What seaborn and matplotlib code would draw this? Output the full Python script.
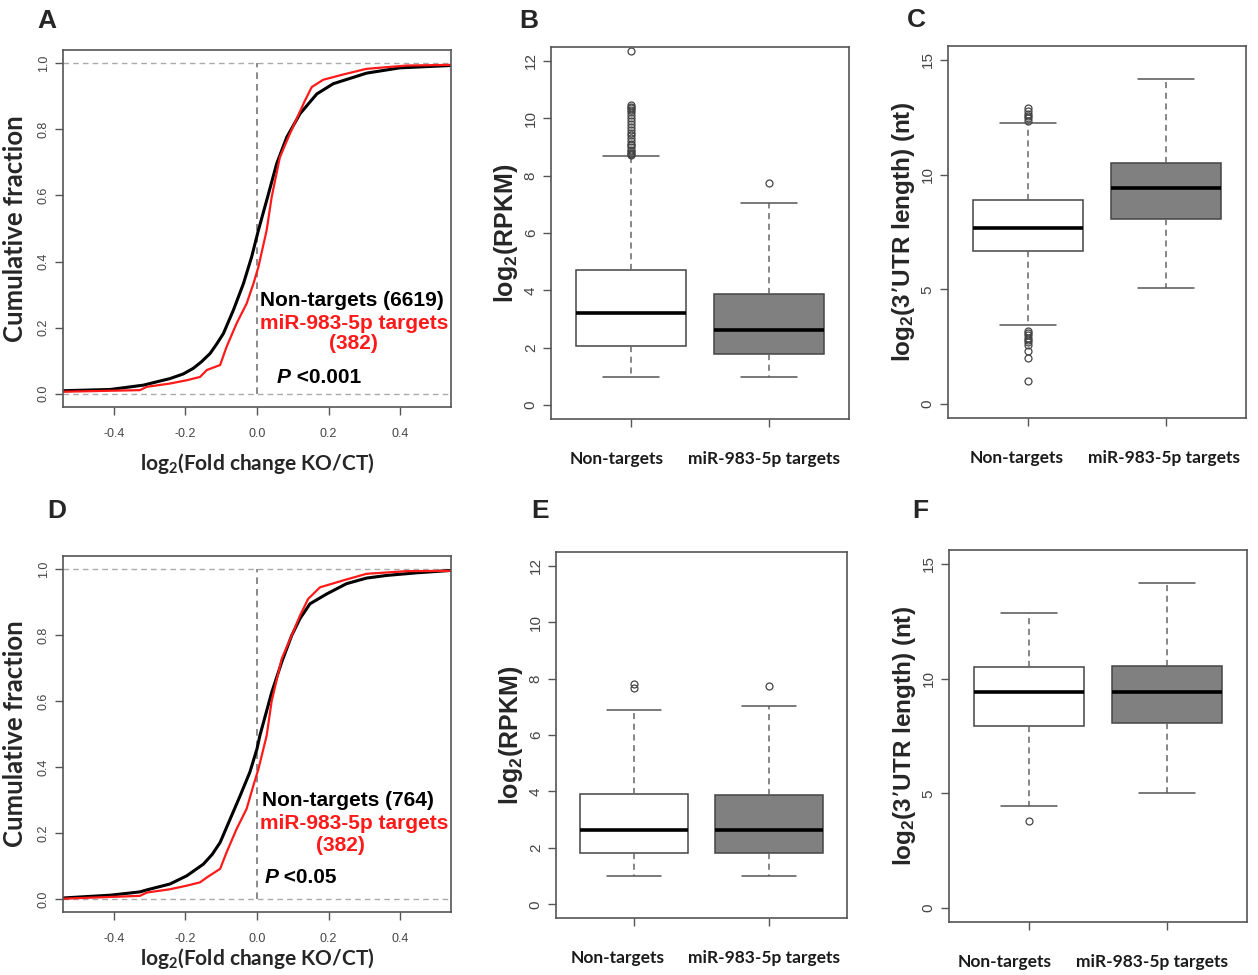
import matplotlib.pyplot as plt
import seaborn as sns
from matplotlib.transforms import ScaledTranslation

categories = ["Non-targets", "miR-983-5p targets"]

# cumulative fraction curves
a_fold_non = [-0.55, -0.41, -0.318, -0.243, -0.206, -0.178, -0.155, -0.131, -0.113, -0.094, -0.066,
              -0.038, -0.015, 0.004, 0.027, 0.055, 0.083, 0.12, 0.167, 0.213, 0.306, 0.399, 0.539]
a_cum_non = [0.009, 0.013, 0.026, 0.046, 0.06, 0.077, 0.097, 0.122, 0.15, 0.182, 0.253,
             0.333, 0.414, 0.495, 0.585, 0.696, 0.776, 0.847, 0.907, 0.938, 0.970, 0.986, 0.993]
a_fold_tgt = [-0.55, -0.327, -0.308, -0.243, -0.196, -0.159, -0.14, -0.103, -0.085, -0.057, -0.029,
              -0.010, 0.004, 0.027, 0.041, 0.064, 0.092, 0.115, 0.134, 0.153, 0.185, 0.241,
              0.306, 0.418, 0.539]
a_cum_tgt = [0.006, 0.011, 0.021, 0.031, 0.041, 0.051, 0.072, 0.087, 0.142, 0.213, 0.273,
             0.333, 0.384, 0.495, 0.595, 0.716, 0.787, 0.842, 0.887, 0.928, 0.95, 0.966,
             0.983, 0.993, 0.995]

d_fold_non = [-0.55, -0.41, -0.327, -0.308, -0.243, -0.196, -0.15, -0.125, -0.103, -0.075, -0.047,
              -0.02, 0.0, 0.008, 0.041, 0.069, 0.097, 0.12, 0.148, 0.195, 0.25, 0.306, 0.362,
              0.446, 0.539]
d_cum_non = [0.002, 0.011, 0.021, 0.027, 0.045, 0.07, 0.105, 0.135, 0.171, 0.242, 0.313,
             0.384, 0.455, 0.495, 0.626, 0.718, 0.799, 0.85, 0.895, 0.925, 0.956, 0.973, 0.981,
             0.989, 0.996]
d_fold_tgt = [-0.55, -0.327, -0.308, -0.243, -0.196, -0.159, -0.14, -0.103, -0.085, -0.057, -0.029,
              -0.010, 0.004, 0.027, 0.041, 0.069, 0.097, 0.12, 0.143, 0.176, 0.241, 0.306, 0.418, 0.539]
d_cum_tgt = [0.0, 0.009, 0.019, 0.029, 0.04, 0.05, 0.065, 0.091, 0.141, 0.212, 0.273,
             0.344, 0.394, 0.495, 0.6, 0.728, 0.799, 0.859, 0.91, 0.945, 0.966, 0.986, 0.994, 0.995]

# box statistics (non-targets, targets)
b_whislo = [1.0, 1.0]
b_q1 = [2.06, 1.79]
b_med = [3.2, 2.62]
b_q3 = [4.71, 3.88]
b_whishi = [8.67, 7.05]
b_fliers = [[8.7, 8.75, 8.8, 8.85, 8.9, 9.0, 9.05, 9.1, 9.2, 9.3, 9.4, 9.5, 9.6, 9.7,
             9.8, 9.9, 10.0, 10.1, 10.2, 10.3, 10.35, 10.4, 10.45, 12.35], [7.73]]

c_whislo = [3.44, 5.04]
c_q1 = [6.67, 8.06]
c_med = [7.66, 9.41]
c_q3 = [8.9, 10.51]
c_whishi = [12.25, 14.15]
c_fliers = [[12.35, 12.45, 12.55, 12.65, 12.75, 12.9,
             3.18, 3.1, 3.0, 2.9, 2.8, 2.7, 2.6, 2.33, 2.0, 1.01], []]

e_whislo = [1.0, 1.0]
e_q1 = [1.83, 1.81]
e_med = [2.64, 2.62]
e_q3 = [3.9, 3.88]
e_whishi = [6.88, 7.04]
e_fliers = [[7.67, 7.79], [7.73]]

f_whislo = [4.47, 5.03]
f_q1 = [7.94, 8.08]
f_med = [9.43, 9.4]
f_q3 = [10.5, 10.53]
f_whishi = [12.87, 14.16]
f_fliers = [[3.79], []]

W, H = 1258, 975
ARIAL = "Liberation Sans"
CALIBRI = "Lato"
GREY = "#555555"

sns.set_style("ticks")
plt.rcParams["font.family"] = [ARIAL, "DejaVu Sans"]
plt.rcParams["mathtext.default"] = "regular"


def make_axes(fig, x0, y0, x1, y1):
    ax = fig.add_axes([x0 / W, 1 - y1 / H, (x1 - x0) / W, (y1 - y0) / H])
    for s in ax.spines.values():
        s.set_color(GREY)
        s.set_linewidth(1.2)
        s.set_visible(True)
    ax.tick_params(color=GREY, length=6, width=1, labelsize=9, labelcolor="#444444")
    return ax


def rotate_y(ax):
    for lab in ax.get_yticklabels():
        lab.set_rotation(90)
        lab.set_va("center")


def ecdf_panel(ax, xn, yn, xt, yt, n_label, n_xy, t_xy, c_xy, p_text, p_xy, xpad):
    ax.set_xlim(-0.542, 0.542)
    ax.set_ylim(-0.04, 1.04)
    ax.axhline(0, color="#aaaaaa", ls=(0, (4, 3)), lw=1)
    ax.axhline(1, color="#aaaaaa", ls=(0, (4, 3)), lw=1)
    ax.plot([0, 0], [0, 1], color="#777777", ls=(0, (4, 3)), lw=1.2)
    sns.lineplot(x=xn, y=yn, ax=ax, color="black", lw=2.2, sort=False, estimator=None)
    sns.lineplot(x=xt, y=yt, ax=ax, color="#ff1a1a", lw=1.6, sort=False, estimator=None)
    ax.set_xticks([-0.4, -0.2, 0.0, 0.2, 0.4])
    ax.set_xticklabels(["-0.4", "-0.2", "0.0", "0.2", "0.4"])
    ax.set_yticks([0, 0.2, 0.4, 0.6, 0.8, 1.0])
    ax.set_yticklabels(["0.0", "0.2", "0.4", "0.6", "0.8", "1.0"])
    rotate_y(ax)
    ax.tick_params(axis="x", pad=9)
    ax.set_ylabel("Cumulative fraction", family=CALIBRI, fontsize=18.5, weight="bold", labelpad=8)
    ax.set_xlabel("log$_2$(Fold change KO/CT)", family=CALIBRI, fontsize=15,
                  weight="bold", labelpad=xpad)
    kw = dict(ha="left", va="center", fontsize=15, weight="bold", family=ARIAL)
    ax.text(n_xy[0], n_xy[1], n_label, color="black", **kw)
    ax.text(t_xy[0], t_xy[1], "miR-983-5p targets", color="#ff1a1a", **kw)
    ax.text(c_xy[0], c_xy[1], "(382)", color="#ff1a1a", **dict(kw, ha="center"))
    p = ax.text(p_xy[0], p_xy[1], "P", color="black", style="italic", **kw)
    ax.annotate(" " + p_text, xy=(1, 0), xycoords=p, va="bottom", ha="left",
                fontsize=15, weight="bold", family=ARIAL, color="black")


def box_panel(ax, whislo, q1, med, q3, whishi, fliers, ylim, yticks, ylabel, label_dx, ysize):
    stats = []
    for i in range(len(categories)):
        stats.append(dict(label=categories[i], whislo=whislo[i], q1=q1[i], med=med[i],
                          q3=q3[i], whishi=whishi[i], fliers=fliers[i]))
    bp = ax.bxp(stats, positions=[1, 2], widths=0.8, patch_artist=True,
                boxprops=dict(edgecolor="#444444", linewidth=1.1),
                medianprops=dict(color="black", linewidth=2.6),
                whiskerprops=dict(color="#666666", linestyle=(0, (4, 3)), linewidth=1.1),
                capprops=dict(color="#555555", linewidth=1.1),
                capwidths=0.4,
                flierprops=dict(marker="o", markersize=5, markerfacecolor="none",
                                markeredgecolor="#444444", markeredgewidth=0.9))
    for patch, fc in zip(bp["boxes"], ["white", "#808080"]):
        patch.set_facecolor(fc)
    ax.set_xlim(0.42, 2.58)
    ax.set_ylim(*ylim)
    ax.set_yticks(yticks)
    ax.set_yticklabels([str(t) for t in yticks])
    ax.tick_params(axis="y", labelsize=11)
    rotate_y(ax)
    ax.set_xticks([1, 2])
    ax.set_xticklabels(categories, family=CALIBRI, fontsize=12.5, weight="bold", color="#1a1a1a")
    ax.tick_params(axis="x", pad=17)
    for lab, dx in zip(ax.get_xticklabels(), label_dx):
        lab.set_transform(lab.get_transform() + ScaledTranslation(dx / 100, 0, ax.figure.dpi_scale_trans))
    ax.set_ylabel(ylabel, family=ARIAL, fontsize=ysize, weight="bold", labelpad=3)


fig = plt.figure(figsize=(W / 100, H / 100), dpi=100)

ax_a = make_axes(fig, 63, 50, 451, 407)
ecdf_panel(ax_a, a_fold_non, a_cum_non, a_fold_tgt, a_cum_tgt, "Non-targets (6619)",
           (0.008, 0.283), (0.008, 0.213), (0.27, 0.153), "<0.001", (0.056, 0.05), 8)

ax_d = make_axes(fig, 63, 556, 451, 912)
ecdf_panel(ax_d, d_fold_non, d_cum_non, d_fold_tgt, d_cum_tgt, "Non-targets (764)",
           (0.014, 0.298), (0.008, 0.227), (0.233, 0.161), "<0.05", (0.02, 0.065), 1)

ax_b = make_axes(fig, 551, 47, 849, 419)
box_panel(ax_b, b_whislo, b_q1, b_med, b_q3, b_whishi, b_fliers, (-0.48, 12.48),
          [0, 2, 4, 6, 8, 10, 12], "log$_2$(RPKM)", [-14, -5], 18)

ax_e = make_axes(fig, 556, 552, 847, 918)
box_panel(ax_e, e_whislo, e_q1, e_med, e_q3, e_whishi, e_fliers, (-0.48, 12.48),
          [0, 2, 4, 6, 8, 10, 12], "log$_2$(RPKM)", [-17, -5], 18)

ax_c = make_axes(fig, 948, 46, 1246, 418)
box_panel(ax_c, c_whislo, c_q1, c_med, c_q3, c_whishi, c_fliers, (-0.6, 15.6),
          [0, 5, 10, 15], "log$_2$(3’UTR length) (nt)", [-11, -2], 17.5)

ax_f = make_axes(fig, 949, 550, 1247, 922)
box_panel(ax_f, f_whislo, f_q1, f_med, f_q3, f_whishi, f_fliers, (-0.6, 15.6),
          [0, 5, 10, 15], "log$_2$(3’UTR length) (nt)", [-24, -15], 17.5)

for letter, x, y in [("A", 37, 21), ("B", 519, 21), ("C", 907, 20),
                     ("D", 47, 511), ("E", 531, 511), ("F", 912, 511)]:
    fig.text(x / W, 1 - y / H, letter, ha="left", va="center", fontsize=19,
             weight="bold", family=ARIAL)

fig.savefig("out.png", dpi=100)
